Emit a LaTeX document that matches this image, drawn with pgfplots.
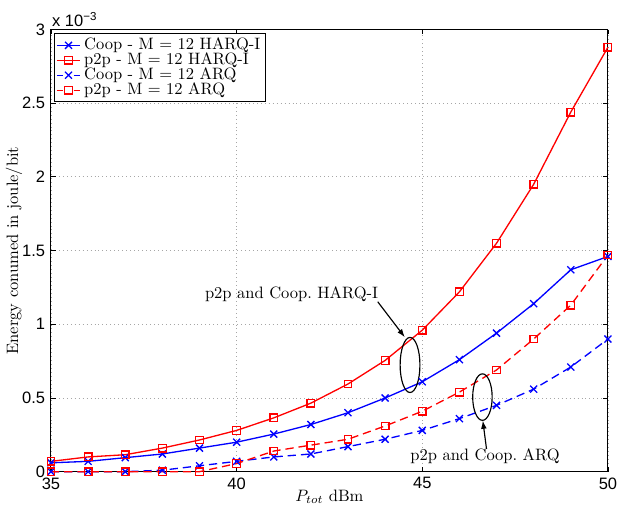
\documentclass[border=0pt]{standalone}
\usepackage{fontspec}
\newfontfamily\arial{Liberation Sans}
\usepackage{pgfplots}
\pgfplotsset{compat=1.18}
\usetikzlibrary{arrows.meta}
\begin{document}
\begin{tikzpicture}
\begin{axis}[
  scale only axis,
  width=337.6pt, height=268pt,
  xmin=35, xmax=50, ymin=0, ymax=3,
  xtick={35,40,45,50},
  ytick={0,0.5,1,1.5,2,2.5,3},
  yticklabels={0,0.5,1,1.5,2,2.5,3},
  tick align=inside,
  major tick length=3pt,
  axis line style={line width=0.6pt},
  every tick/.style={black, line width=0.5pt},
  grid=major,
  major grid style={dotted, gray!70, line width=0.5pt},
  /pgf/number format/assume math mode=true,
  tick label style={font=\arial\fontsize{10}{11}\selectfont},
  xlabel={$P_{tot}$ dBm},
  ylabel={Energy conumed in joule/bit},
  xlabel style={at={(axis description cs:0.5,-0.057)}, anchor=center},
  ylabel style={at={(axis description cs:-0.0663,0.5)}, anchor=center},
  clip=false,
  legend cell align=left,
  legend image code/.code={\draw[mark repeat=2,mark phase=2,#1] plot coordinates {(0cm,0cm) (0.25cm,0cm) (0.5cm,0cm)};},
  legend style={at={(axis description cs:0.006,0.992)}, anchor=north west,
    draw=black, line width=0.6pt, inner sep=0.8pt, row sep=-3.6pt,
    font=\fontsize{10}{11}\selectfont, fill=white},
]
\addplot[blue, line width=0.8pt, mark=x, mark size=3pt, mark options={solid}]
  coordinates {(35,0.06)(36,0.07)(37,0.095)(38,0.12)(39,0.16)(40,0.20)(41,0.255)(42,0.32)(43,0.40)(44,0.50)(45,0.61)(46,0.76)(47,0.94)(48,1.14)(49,1.37)(50,1.46)};
\addlegendentry{Coop - M = 12 HARQ-I}
\addplot[red, line width=0.8pt, mark=square, mark size=2.3pt, mark options={solid}]
  coordinates {(35,0.07)(36,0.10)(37,0.115)(38,0.16)(39,0.215)(40,0.28)(41,0.365)(42,0.465)(43,0.595)(44,0.755)(45,0.96)(46,1.22)(47,1.55)(48,1.95)(49,2.44)(50,2.88)};
\addlegendentry{p2p - M = 12 HARQ-I}
\addplot[blue, line width=0.8pt, dash pattern=on 5pt off 3pt, mark=x, mark size=3pt, mark options={solid},
  legend image post style={dash pattern=on 4pt off 6.2pt}]
  coordinates {(35,0)(36,0)(37,0)(38,0.01)(39,0.04)(40,0.07)(41,0.10)(42,0.12)(43,0.17)(44,0.22)(45,0.28)(46,0.36)(47,0.45)(48,0.56)(49,0.71)(50,0.90)};
\addlegendentry{Coop - M = 12 ARQ}
\addplot[red, line width=0.8pt, dash pattern=on 5pt off 3pt, mark=square, mark size=2.3pt, mark options={solid},
  legend image post style={dash pattern=on 4pt off 6.2pt}]
  coordinates {(35,0)(36,0)(37,0)(38,0)(39,0)(40,0.055)(41,0.14)(42,0.18)(43,0.22)(44,0.31)(45,0.41)(46,0.54)(47,0.69)(48,0.90)(49,1.13)(50,1.47)};
\addlegendentry{p2p - M = 12 ARQ}
\draw[black, line width=0.7pt] (axis cs:44.67,0.724) ellipse [x radius=6pt, y radius=16.7pt];
\draw[black, line width=0.7pt] (axis cs:46.62,0.506) ellipse [x radius=5.9pt, y radius=14.1pt];
\draw[black, line width=0.7pt, -{Latex[length=5pt,width=3.5pt]}] (axis cs:43.80,1.153) -- (axis cs:44.53,0.912);
\draw[black, line width=0.7pt, -{Latex[length=5pt,width=3.5pt]}] (axis cs:46.73,0.154) -- (axis cs:46.63,0.347);
\node[font=\fontsize{10}{11}\selectfont] at (axis cs:41.48,1.205) {p2p and Coop.\ HARQ-I};
\node[font=\fontsize{10}{11}\selectfont] at (axis cs:46.69,0.105) {p2p and Coop.\ ARQ};
\node[anchor=south west, inner sep=0pt, font=\arial\fontsize{10}{11}\selectfont] at ([xshift=0.5pt,yshift=1.5pt]axis description cs:0,1) {x 10\raisebox{0.75ex}{\fontsize{7}{8}\selectfont −3}};
\end{axis}
\pgfresetboundingbox
\useasboundingbox (-30.9pt,-22.4pt) rectangle (343.1pt,285.9pt);
\end{tikzpicture}
\end{document}
